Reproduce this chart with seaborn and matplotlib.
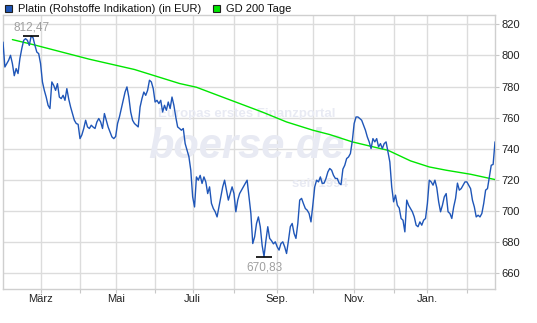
import matplotlib
matplotlib.use("Agg")
import matplotlib.pyplot as plt
from matplotlib.patches import Rectangle
import numpy as np
import pandas as pd
import seaborn as sns

# Platinum price (EUR), one value per trading day
kurs = [
    808.6, 792.6, 794.8, 796.9, 800.1, 794.8, 787.0, 791.6, 788.4, 798.0,
    804.4, 809.7, 810.8, 809.7, 806.5, 812.47, 811.4, 806.5, 802.2, 801.2,
    794.8, 783.0, 777.6, 773.3, 768.0, 765.9, 783.0, 780.8, 777.6, 781.9,
    773.3, 772.3, 774.4, 771.2, 778.7, 772.0, 766.9, 762.7, 758.4, 756.3,
    755.8, 746.6, 749.0, 753.1, 758.4, 754.1, 753.1, 755.2, 754.0, 753.1,
    757.3, 759.5, 757.3, 753.1, 762.7, 758.4, 754.0, 750.9, 747.7, 746.6,
    748.0, 756.3, 760.5, 765.9, 771.2, 776.5, 779.8, 773.3, 763.7, 758.4,
    756.3, 755.2, 754.1, 766.9, 772.3, 776.5, 774.4, 777.6, 784.1, 783.0,
    778.7, 770.1, 771.2, 769.1, 771.2, 763.7, 768.0, 764.8, 770.1, 765.9,
    773.3, 768.0, 760.5, 754.1, 753.1, 752.0, 753.1, 743.4, 739.1, 735.0,
    726.3, 709.2, 702.7, 722.0, 719.9, 723.0, 717.8, 722.0, 718.8, 711.3,
    715.6, 705.0, 701.7, 699.6, 696.3, 702.7, 709.2, 715.6, 719.9, 713.5,
    707.1, 711.3, 715.6, 711.3, 699.6, 707.1, 711.3, 713.5, 715.6, 717.8,
    719.9, 709.2, 698.5, 679.2, 683.5, 692.1, 696.3, 690.0, 678.0, 670.83,
    681.0, 690.0, 682.5, 681.0, 679.0, 680.3, 677.1, 675.0, 679.2, 680.3,
    677.1, 672.8, 681.0, 690.0, 692.1, 685.7, 682.5, 692.1, 707.1, 708.2,
    704.8, 701.7, 700.6, 698.5, 693.1, 704.0, 715.6, 719.9, 718.8, 722.0,
    717.8, 718.0, 721.0, 725.2, 727.4, 726.3, 723.0, 721.0, 721.0, 718.0,
    717.0, 727.0, 729.5, 733.8, 734.8, 737.0, 745.0, 756.3, 760.5, 760.5,
    759.5, 758.4, 755.2, 752.0, 747.7, 744.5, 740.2, 746.6, 744.5, 746.6,
    741.3, 743.4, 740.2, 743.4, 744.5, 738.0, 731.6, 715.6, 706.0, 710.3,
    703.8, 702.0, 695.3, 694.2, 686.7, 707.1, 703.8, 701.7, 699.6, 696.3,
    691.0, 690.0, 693.1, 691.0, 694.2, 695.3, 705.0, 719.9, 718.8, 716.7,
    719.9, 715.0, 706.0, 699.6, 703.8, 709.2, 711.3, 699.6, 698.5, 695.3,
    702.7, 708.2, 718.0, 713.5, 714.5, 716.7, 718.8, 718.8, 716.7, 714.5,
    707.0, 702.7, 696.3, 697.4, 696.3, 698.5, 705.0, 713.5, 714.5, 722.0,
    729.5, 730.0, 744.5,
]
tage = list(range(len(kurs)))

# 200-day moving average (trading day, value)
gd_tag = [5, 16, 46, 70, 94, 103, 112, 138, 151, 165, 174, 186, 201, 205, 217, 227, 236, 249, 262]
gd_wert = [810.2, 807.0, 797.6, 791.0, 782.0, 779.6, 775.5, 763.7, 757.3, 752.0,
           749.2, 744.5, 740.2, 739.1, 732.3, 728.4, 726.3, 723.7, 720.3]

# Month boundaries on the trading-day axis
monat_tag = [20, 41, 60, 81, 101, 123, 146, 165, 187, 208, 226, 247]
monat_label = ["März", "", "Mai", "", "Juli", "", "Sep.", "", "Nov.", "", "Jan.", ""]

y_ticks = [660, 680, 700, 720, 740, 760, 780, 800, 820]

BLUE = "#1f56b8"
GREEN = "#00e600"
GRID = "#dcdcdc"

sns.set_style("white")
plt.rcParams["font.family"] = ["Liberation Sans", "DejaVu Sans"]

W, H = 537, 323
fig = plt.figure(figsize=(W / 100, H / 100), dpi=100)
ax = fig.add_axes([3 / W, 1 - 289 / H, 492 / W, 274 / H])

df_kurs = pd.DataFrame({"tag": tage, "wert": kurs})
df_gd = pd.DataFrame({"tag": gd_tag, "wert": gd_wert})

sns.lineplot(data=df_gd, x="tag", y="wert", ax=ax, color=GREEN, lw=1.0, zorder=3)
sns.lineplot(data=df_kurs, x="tag", y="wert", ax=ax, color=BLUE, lw=1.0, zorder=4)

ax.set_xlim(0, len(kurs) - 1)
ax.set_ylim(650, 826)
ax.set_xlabel("")
ax.set_ylabel("")

ax.set_xticks(monat_tag)
ax.set_xticklabels(monat_label, fontsize=8, color="#222222")
ax.set_yticks(y_ticks)
ax.set_yticklabels([str(v) for v in y_ticks], fontsize=8, color="#222222")
ax.yaxis.tick_right()
ax.tick_params(axis="y", length=3, width=0.8, color="#c8c8c8", pad=1.5, right=True, left=False)
ax.tick_params(axis="x", length=3, width=0.8, color="#c8c8c8", pad=0.5, bottom=True)
ax.grid(True, color=GRID, lw=1.0)
ax.set_axisbelow(True)
for s in ax.spines.values():
    s.set_color("#cfcfcf")
    s.set_linewidth(1.0)

# Highest and lowest value with markers
i_max = int(np.argmax(kurs))
i_min = int(np.argmin(kurs))
for i, dy, va in [(i_max, 2.0, "bottom"), (i_min, -3.5, "top")]:
    ax.plot([tage[i]], [kurs[i]], marker="_", markersize=11, mew=1.2, color="black", zorder=5)
    ax.annotate(f"{kurs[i]:.2f}".replace(".", ","), (tage[i], kurs[i]),
                xytext=(0, dy), textcoords="offset points", ha="center", va=va,
                fontsize=8.5, color="#a0a0a0", zorder=6)

# Watermark
wm = "#e8eaf3"
ax.text(0.495, 0.637, "Europas erstes Finanzportal", transform=ax.transAxes, ha="center",
        va="center", fontsize=9.5, color=wm, fontweight="bold", zorder=1)
ax.text(0.495, 0.52, "boerse.de", transform=ax.transAxes, ha="center", va="center",
        fontsize=30, color=wm, fontweight="bold", style="italic", zorder=1)
ax.text(0.645, 0.385, "seit 1994", transform=ax.transAxes, ha="center", va="center",
        fontsize=9.5, color=wm, fontweight="bold", zorder=1)

# Legend row above the plot
def legend_item(x, color, label):
    fig.patches.append(Rectangle((x / W, 1 - 12 / H), 7 / W, 7 / H, transform=fig.transFigure,
                                 facecolor=color, edgecolor="#202020", lw=0.8))
    fig.text((x + 13) / W, 1 - 8.5 / H, label, fontsize=8, color="#111111", va="center", ha="left")

legend_item(4.5, BLUE, "Platin (Rohstoffe Indikation) (in EUR)")
legend_item(213, GREEN, "GD 200 Tage")

fig.savefig("out.png", dpi=100)
